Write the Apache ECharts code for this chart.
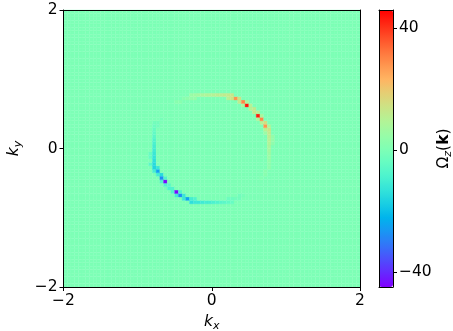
<!DOCTYPE html>
<html>
<head>
<meta charset="utf-8">
<script src="https://cdn.jsdelivr.net/npm/echarts@6/dist/echarts.min.js"></script>
<style>
  html, body { margin: 0; padding: 0; background: #fff; }
  #chart { width: 453px; height: 331px; }
</style>
</head>
<body>
<div id="chart"></div>
<script>
// k-grid: 80 x 80 cells over [-2, 2]
const kMin = -2
const kMax = 2
const gridN = 80
const cbTicks = [-40, 0, 40]
const omegaMin = -45
const omegaMax = 46

// non-zero cells of Omega_z(k) (col = kx index, row = ky index)
const ringCol = [
  34, 35, 36, 37, 38, 39, 40, 41, 42, 43, 44, 45,
  32, 33, 34, 35, 44, 45, 46, 47,
  30, 31, 47, 48, 49,
  48, 49, 50,
  50, 51,
  51, 52,
  52, 53,
  52, 53,
  53, 54,
  54, 55,
  54, 55,
  54, 55, 55, 56, 55, 56, 55, 56, 55, 55, 55, 55, 55, 55, 55, 54, 54, 53,
  34, 35, 36, 37, 38, 39, 40, 41, 42, 43, 44, 45,
  32, 33, 34, 35, 44, 45, 46, 47,
  30, 31, 32, 47, 48,
  29, 30, 31,
  28, 29,
  27, 28,
  26, 27,
  26, 27,
  25, 26,
  24, 25,
  24, 25,
  23, 24, 24, 23, 24, 23, 24, 24, 24, 24, 24, 24, 24, 24, 24, 24, 25, 25, 26
]
const ringRow = [
  55, 55, 55, 55, 55, 55, 55, 55, 55, 55, 55, 55,
  54, 54, 54, 54, 54, 54, 54, 54,
  53, 53, 53, 53, 53,
  52, 52, 52,
  51, 51,
  50, 50,
  49, 49,
  48, 48,
  47, 47,
  46, 46,
  45, 45,
  44, 44, 43, 43, 42, 42, 41, 41, 40, 39, 38, 37, 36, 35, 34, 33, 32, 31,
  24, 24, 24, 24, 24, 24, 24, 24, 24, 24, 24, 24,
  25, 25, 25, 25, 25, 25, 25, 25,
  26, 26, 26, 26, 26,
  27, 27, 27,
  28, 28,
  29, 29,
  30, 30,
  31, 31,
  32, 32,
  33, 33,
  34, 34,
  35, 35, 36, 37, 37, 38, 38, 39, 40, 41, 42, 43, 44, 45, 46, 47, 46, 47, 48
]
const ringVal = [
  5, 6, 7, 8, 9, 9, 10, 11, 11, 12, 12, 13,
  2, 3, 4, 4, 10, 14, 28, 14,
  2, 2, 12, 30, 8,
  8, 44, 10,
  10, 12,
  12, 10,
  43, 8,
  8, 30,
  10, 15,
  28, 8,
  10, 13,
  5, 12, 11, 4, 10, 4, 9, 3, 8, 7, 6, 5, 4, 3, 3, 2, 2, 1,
  -14, -12, -12, -11, -10, -10, -9, -8, -7, -6, -5, -4,
  -12, -25, -10, -8, -3, -3, -2, -2,
  -10, -28, -12, -2, -1,
  -8, -44, -8,
  -8, -8,
  -8, -6,
  -8, -44,
  -28, -8,
  -10, -15,
  -10, -25,
  -16, -12,
  -6, -15, -14, -4, -13, -4, -12, -11, -10, -9, -8, -6, -5, -4, -3, -2, -2, -2, -1
]

const font = 'DejaVu Sans'
const step = (kMax - kMin) / gridN

// matplotlib "rainbow" colormap
const rainbow = []
for (let n = 0; n <= 20; n++) {
  const t = n / 20
  const r = Math.min(1, Math.abs(2 * t - 0.5))
  const g = Math.sin(Math.PI * t)
  const b = Math.cos(Math.PI * t / 2)
  rainbow.push(`rgb(${Math.round(r * 255)},${Math.round(g * 255)},${Math.round(b * 255)})`)
}

const omega = new Map()
ringCol.forEach((c, n) => omega.set(c + ',' + ringRow[n], ringVal[n]))

const cells = []
for (let c = 0; c < gridN; c++) {
  for (let r = 0; r < gridN; r++) {
    cells.push([kMin + c * step, kMin + r * step, omega.get(c + ',' + r) || 0])
  }
}

const minus = v => String(v).replace('-', '\u2212')
const labelStyle = { color: '#000', fontSize: 15.5, fontFamily: font }
const frameLine = { onZero: false, lineStyle: { color: '#000', width: 1 } }
const frameOnly = {
  type: 'value', z: 10, axisLine: frameLine,
  axisTick: { show: false }, axisLabel: { show: false }, splitLine: { show: false }
}
const subRich = {
  i: { fontSize: 15.5, fontStyle: 'italic', fontFamily: font, color: '#000', verticalAlign: 'top', lineHeight: 18 },
  o: { fontSize: 15.5, fontFamily: font, color: '#000', verticalAlign: 'top', lineHeight: 18 },
  b: { fontSize: 15.5, fontWeight: 'bold', fontFamily: font, color: '#000', verticalAlign: 'top', lineHeight: 18 },
  s: { fontSize: 11, fontStyle: 'italic', fontFamily: font, color: '#000', verticalAlign: 'bottom', lineHeight: 16 }
}

const chart = echarts.init(document.getElementById('chart'), null, { renderer: 'canvas' })

chart.setOption({
  animation: false,
  backgroundColor: '#fff',
  grid: [
    { left: 63.5, right: 93, top: 10, bottom: 44, outerBoundsMode: 'none', containLabel: false },
    { left: 379, width: 14, top: 10, bottom: 44, outerBoundsMode: 'none', containLabel: false }
  ],
  xAxis: [
    {
      type: 'value', gridIndex: 0, min: kMin, max: kMax, interval: 2, z: 10,
      axisLine: frameLine,
      axisTick: { show: true, length: 4, lineStyle: { color: '#000' } },
      axisLabel: { ...labelStyle, margin: 6, formatter: minus },
      splitLine: { show: false },
      name: '{i|k}{s|x}', nameLocation: 'middle', nameGap: 23,
      nameTextStyle: { rich: subRich }
    },
    { ...frameOnly, gridIndex: 0, position: 'top', min: kMin, max: kMax },
    { ...frameOnly, gridIndex: 1, position: 'bottom', min: 0, max: 1 },
    { ...frameOnly, gridIndex: 1, position: 'top', min: 0, max: 1 }
  ],
  yAxis: [
    {
      type: 'value', gridIndex: 0, min: kMin, max: kMax, interval: 2, z: 10,
      axisLine: frameLine,
      axisTick: { show: true, length: 4, lineStyle: { color: '#000' } },
      axisLabel: { ...labelStyle, margin: 6, formatter: minus },
      splitLine: { show: false },
      name: '{i|k}{s|y}', nameLocation: 'middle', nameGap: 30, nameRotate: 90,
      nameTextStyle: { rich: subRich }
    },
    { ...frameOnly, gridIndex: 0, position: 'right', min: kMin, max: kMax },
    {
      type: 'value', gridIndex: 1, position: 'right', min: omegaMin, max: omegaMax, z: 10,
      axisLine: frameLine,
      axisTick: { show: true, length: 4, customValues: cbTicks, lineStyle: { color: '#000' } },
      axisLabel: { ...labelStyle, margin: 6, customValues: cbTicks, formatter: minus },
      splitLine: { show: false },
      name: '{o|\u03A9}{s|z}{o|(}{b|k}{o|)}', nameLocation: 'middle', nameGap: 27, nameRotate: 90,
      nameTextStyle: { rich: subRich }
    },
    { ...frameOnly, gridIndex: 1, position: 'left', min: omegaMin, max: omegaMax }
  ],
  visualMap: {
    type: 'continuous',
    min: omegaMin,
    max: omegaMax,
    seriesIndex: 0,
    dimension: 2,
    left: 379,
    top: 10,
    itemWidth: 14,
    itemHeight: 277,
    padding: 0,
    text: null,
    calculable: false,
    hoverLink: false,
    inRange: { color: rainbow }
  },
  series: [{
    type: 'custom',
    xAxisIndex: 0,
    yAxisIndex: 0,
    encode: { x: 0, y: 1 },
    progressive: 0,
    data: cells,
    renderItem: (params, api) => {
      const x0 = api.value(0)
      const y0 = api.value(1)
      const p0 = api.coord([x0, y0 + step])
      const p1 = api.coord([x0 + step, y0])
      return {
        type: 'rect',
        shape: { x: p0[0], y: p0[1], width: p1[0] - p0[0], height: p1[1] - p0[1] },
        style: { fill: api.visual('color'), stroke: api.visual('color'), lineWidth: 0.3 }
      }
    }
  }]
})
</script>
</body>
</html>
